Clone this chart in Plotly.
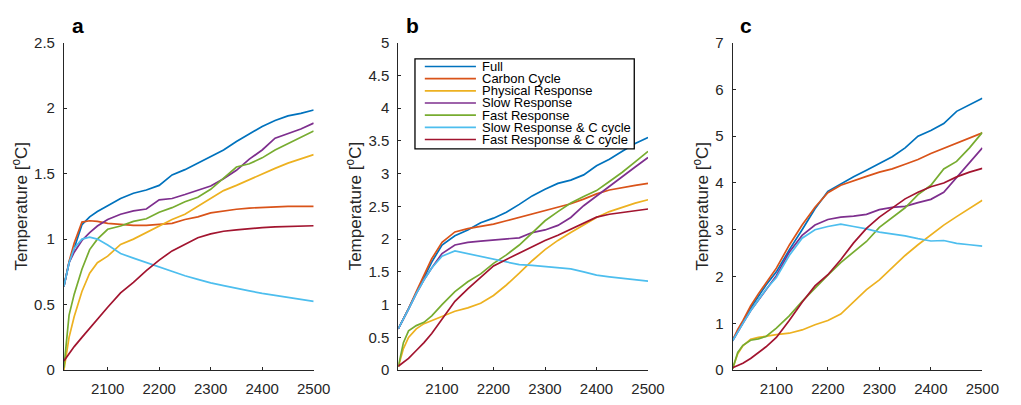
import plotly.graph_objects as go

# Simulation years shared by all three scenarios
years = [2015, 2025, 2035, 2050, 2065, 2080, 2100, 2125, 2150, 2175, 2200, 2225,
         2250, 2275, 2300, 2325, 2350, 2375, 2400, 2425, 2450, 2475, 2500]

series_names = ["Full", "Carbon Cycle", "Physical Response", "Slow Response",
                "Fast Response", "Slow Response & C cycle", "Fast Response & C cycle"]
series_colors = ["#0072BD", "#D95319", "#EDB120", "#7E2F8E",
                 "#77AC30", "#4DBEEE", "#A2142F"]

# Panel a
a_full = [0.64, 0.82, 0.93, 1.11, 1.17, 1.21, 1.255, 1.31, 1.35, 1.375, 1.41, 1.49,
          1.53, 1.58, 1.635, 1.68, 1.745, 1.805, 1.86, 1.905, 1.94, 1.96, 1.985]
a_carbon = [0.64, 0.83, 0.97, 1.13, 1.14, 1.135, 1.12, 1.11, 1.105, 1.105, 1.11, 1.12,
            1.15, 1.17, 1.2, 1.215, 1.228, 1.237, 1.243, 1.248, 1.25, 1.25, 1.25]
a_phys = [0.0, 0.25, 0.41, 0.6, 0.74, 0.82, 0.87, 0.96, 1.0, 1.05, 1.1, 1.15,
          1.19, 1.25, 1.315, 1.37, 1.41, 1.455, 1.495, 1.54, 1.58, 1.61, 1.645]
a_slow = [0.64, 0.82, 0.9, 0.99, 1.05, 1.1, 1.15, 1.19, 1.215, 1.23, 1.3, 1.31,
          1.34, 1.37, 1.405, 1.46, 1.525, 1.61, 1.68, 1.77, 1.805, 1.84, 1.885]
a_fast = [0.02, 0.42, 0.58, 0.77, 0.92, 1.0, 1.075, 1.1, 1.135, 1.155, 1.205, 1.24,
          1.285, 1.32, 1.38, 1.465, 1.55, 1.575, 1.62, 1.68, 1.73, 1.78, 1.825]
a_slow_c = [0.64, 0.82, 0.93, 1.0, 1.015, 1.0, 0.955, 0.89, 0.855, 0.82, 0.785, 0.75,
            0.72, 0.693, 0.666, 0.645, 0.623, 0.605, 0.586, 0.57, 0.557, 0.54, 0.525]
a_fast_c = [0.07, 0.13, 0.18, 0.25, 0.32, 0.39, 0.48, 0.59, 0.67, 0.76, 0.84, 0.91,
            0.96, 1.01, 1.04, 1.06, 1.07, 1.08, 1.088, 1.093, 1.097, 1.1, 1.102]

# Panel b
b_full = [0.63, 0.78, 0.94, 1.18, 1.42, 1.65, 1.91, 2.05, 2.14, 2.25, 2.32, 2.41,
          2.53, 2.66, 2.76, 2.85, 2.9, 2.98, 3.12, 3.22, 3.34, 3.46, 3.55]
b_carbon = [0.63, 0.78, 0.94, 1.2, 1.45, 1.7, 1.95, 2.11, 2.16, 2.19, 2.23, 2.28,
            2.33, 2.38, 2.43, 2.48, 2.54, 2.61, 2.69, 2.75, 2.79, 2.82, 2.85]
b_phys = [0.05, 0.33, 0.5, 0.63, 0.71, 0.76, 0.82, 0.9, 0.95, 1.02, 1.14, 1.3,
          1.48, 1.67, 1.84, 1.98, 2.1, 2.22, 2.33, 2.42, 2.49, 2.55, 2.6]
b_slow = [0.63, 0.77, 0.93, 1.17, 1.38, 1.56, 1.78, 1.91, 1.95, 1.97, 1.99, 2.0,
          2.02, 2.1, 2.14, 2.21, 2.33, 2.51, 2.66, 2.8, 2.96, 3.1, 3.245]
b_fast = [0.05, 0.42, 0.6, 0.68, 0.73, 0.83, 1.0, 1.2, 1.35, 1.47, 1.63, 1.76,
          1.91, 2.1, 2.28, 2.42, 2.55, 2.65, 2.74, 2.88, 3.02, 3.18, 3.34]
b_slow_c = [0.63, 0.77, 0.93, 1.17, 1.38, 1.56, 1.74, 1.82, 1.78, 1.73, 1.69, 1.66,
            1.61, 1.6, 1.58, 1.56, 1.545, 1.5, 1.45, 1.425, 1.4, 1.375, 1.36]
b_fast_c = [0.06, 0.12, 0.18, 0.3, 0.42, 0.56, 0.78, 1.05, 1.24, 1.42, 1.59, 1.69,
            1.79, 1.885, 1.98, 2.06, 2.15, 2.25, 2.335, 2.38, 2.41, 2.43, 2.46]

# Panel c
c_full = [0.64, 0.85, 1.03, 1.33, 1.58, 1.82, 2.1, 2.57, 3.0, 3.45, 3.82, 3.98,
          4.13, 4.27, 4.42, 4.56, 4.75, 5.0, 5.12, 5.27, 5.53, 5.67, 5.81]
c_carbon = [0.64, 0.87, 1.06, 1.37, 1.63, 1.87, 2.18, 2.67, 3.1, 3.48, 3.79, 3.95,
            4.05, 4.14, 4.23, 4.3, 4.4, 4.5, 4.63, 4.74, 4.86, 4.97, 5.07]
c_phys = [0.03, 0.35, 0.52, 0.66, 0.7, 0.73, 0.76, 0.79, 0.86, 0.97, 1.06, 1.2,
          1.47, 1.72, 1.93, 2.2, 2.45, 2.68, 2.9, 3.1, 3.28, 3.46, 3.63]
c_slow = [0.63, 0.83, 1.0, 1.27, 1.5, 1.73, 2.02, 2.52, 2.88, 3.1, 3.22, 3.27,
          3.29, 3.33, 3.43, 3.48, 3.5, 3.58, 3.65, 3.8, 4.12, 4.44, 4.75]
c_fast = [0.03, 0.38, 0.53, 0.64, 0.67, 0.72, 0.9, 1.16, 1.47, 1.76, 2.03, 2.3,
          2.53, 2.75, 3.05, 3.26, 3.47, 3.75, 3.95, 4.3, 4.46, 4.75, 5.08]
c_slow_c = [0.63, 0.83, 1.0, 1.27, 1.5, 1.73, 1.98, 2.45, 2.82, 3.0, 3.07, 3.12,
            3.07, 3.02, 2.95, 2.91, 2.87, 2.81, 2.76, 2.77, 2.71, 2.68, 2.65]
c_fast_c = [0.05, 0.1, 0.15, 0.25, 0.37, 0.5, 0.7, 1.06, 1.45, 1.8, 2.04, 2.36,
            2.72, 3.03, 3.27, 3.46, 3.66, 3.8, 3.92, 4.0, 4.13, 4.23, 4.31]

panel_letters = ["a", "b", "c"]
y_max = [2.5, 5, 7]
y_dtick = [0.5, 0.5, 1]
x_tickvals = [2100, 2200, 2300, 2400, 2500]

panels = [
    [a_full, a_carbon, a_phys, a_slow, a_fast, a_slow_c, a_fast_c],
    [b_full, b_carbon, b_phys, b_slow, b_fast, b_slow_c, b_fast_c],
    [c_full, c_carbon, c_phys, c_slow, c_fast, c_slow_c, c_fast_c],
]

W, H = 1021, 405
FONT = "Liberation Sans, Arial, Helvetica, sans-serif"
AXIS_COLOR = "#262626"

# pixel layout of each axes box
x_left = [65, 405, 745]
x_right = [319, 659, 999]
y_top, y_bottom = 35, 377
ytitle_x = [20.5, 360, 713]


def px(x):
    return x / W


def py(y):
    return 1 - y / H


fig = go.Figure()
layout = dict(
    width=W, height=H,
    margin=dict(l=0, r=0, t=0, b=0),
    paper_bgcolor="white", plot_bgcolor="white",
    font=dict(family=FONT, size=15, color=AXIS_COLOR),
    showlegend=False,
)

annotations = []
shapes = []

for i, data in enumerate(panels):
    suffix = "" if i == 0 else str(i + 1)
    xa, ya = "x" + suffix, "y" + suffix
    for name, color, values in zip(series_names, series_colors, data):
        fig.add_trace(go.Scatter(
            x=years, y=values, name=name, mode="lines",
            line=dict(color=color, width=1.7),
            xaxis=xa, yaxis=ya,
        ))
    layout["xaxis" + suffix] = dict(
        domain=[px(x_left[i]), px(x_right[i])], anchor=ya,
        range=[2015, 2500], tickvals=x_tickvals,
        ticks="inside", ticklen=3, tickcolor=AXIS_COLOR, tickwidth=1,
        showline=True, linecolor=AXIS_COLOR, linewidth=1,
        showgrid=False, zeroline=False, ticklabelstandoff=5,
        tickfont=dict(size=15, color=AXIS_COLOR),
    )
    layout["yaxis" + suffix] = dict(
        domain=[py(y_bottom), py(y_top)], anchor=xa,
        range=[0, y_max[i]], dtick=y_dtick[i], tick0=0,
        ticks="inside", ticklen=3, tickcolor=AXIS_COLOR, tickwidth=1,
        showline=True, linecolor=AXIS_COLOR, linewidth=1,
        showgrid=False, zeroline=False, ticklabelstandoff=5,
        tickfont=dict(size=15, color=AXIS_COLOR),
    )
    annotations.append(dict(
        x=px(ytitle_x[i]), y=py((y_top + y_bottom) / 2), xref="paper", yref="paper",
        text="Temperature [<sup>o</sup>C]", textangle=-90, showarrow=False,
        xanchor="center", yanchor="middle",
        font=dict(size=17, color=AXIS_COLOR, family=FONT),
    ))
    annotations.append(dict(
        x=px(x_left[i] + 6), y=py(17), xref="paper", yref="paper",
        text="<b>%s</b>" % panel_letters[i], showarrow=False,
        xanchor="left", yanchor="middle",
        font=dict(size=21, color="black", family=FONT),
    ))

# legend box inside panel b
leg_l, leg_r, leg_t, leg_b = 422, 645, 52, 146
shapes.append(dict(type="rect", xref="paper", yref="paper",
                   x0=px(leg_l), x1=px(leg_r), y0=py(leg_b), y1=py(leg_t),
                   line=dict(color="black", width=1.3), fillcolor="white", layer="above"))
row0, row_step = 60, 12.7
for k, (name, color) in enumerate(zip(series_names, series_colors)):
    yy = row0 + k * row_step
    shapes.append(dict(type="line", xref="paper", yref="paper",
                       x0=px(432), x1=px(484), y0=py(yy), y1=py(yy),
                       line=dict(color=color, width=1.7), layer="above"))
    annotations.append(dict(
        x=px(488), y=py(yy), xref="paper", yref="paper", text=name,
        showarrow=False, xanchor="left", yanchor="middle",
        font=dict(size=13, color="black", family=FONT),
    ))

layout["annotations"] = annotations
layout["shapes"] = shapes
fig.update_layout(**layout)
fig.write_html("out.html")
